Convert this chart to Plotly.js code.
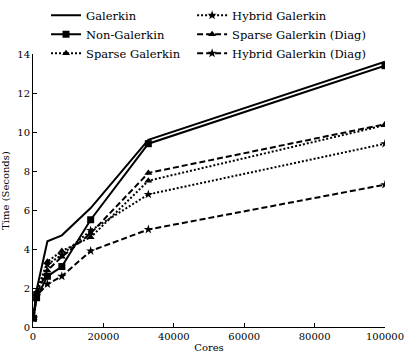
<!DOCTYPE html>
<html>
<head>
<meta charset="utf-8">
<script src="https://cdn.plot.ly/plotly-3.0.1.min.js"></script>
<style>
  html, body { margin: 0; padding: 0; background: #fff; }
  #chart { width: 407px; height: 359px; }
</style>
</head>
<body>
<div id="chart"></div>
<script>
// Cores (x values)
const cores = [128, 1024, 4096, 8192, 16384, 32768, 100000];

// Time (s) for each method
const galerkin        = [0.5, 1.9, 4.4, 4.7, 6.1, 9.6, 13.6];
const nonGalerkin     = [0.45, 1.5, 2.6, 3.1, 5.5, 9.4, 13.4];
const sparseGalerkin  = [0.45, 1.8, 3.35, 3.9, 4.6, 7.5, 10.35];
const hybridGalerkin  = [0.45, 1.75, 3.2, 3.7, 4.95, 6.8, 9.4];
const sparseDiag      = [0.45, 1.7, 2.9, 3.6, 4.8, 7.9, 10.4];
const hybridDiag      = [0.45, 1.6, 2.2, 2.6, 3.9, 5.0, 7.3];

const serif = 'DejaVu Serif';
const DOT = '2px,2px';
const DASH = '6px,3px';

function trace(name, y, dash, symbol, legend) {
  return {
    x: cores, y: y, name: name, type: 'scatter',
    mode: symbol ? 'lines+markers' : 'lines',
    line: { color: '#000', width: 2, dash: dash },
    marker: { symbol: symbol || 'circle', size: 7, color: '#000' },
    legend: legend
  };
}

const data = [
  trace('Galerkin', galerkin, 'solid', null, 'legend'),
  trace('Non-Galerkin', nonGalerkin, 'solid', 'square', 'legend'),
  trace('Sparse Galerkin', sparseGalerkin, DOT, 'triangle-up', 'legend'),
  trace('Hybrid Galerkin', hybridGalerkin, DOT, 'star', 'legend2'),
  trace('Sparse Galerkin (Diag)', sparseDiag, DASH, 'triangle-up', 'legend2'),
  trace('Hybrid Galerkin (Diag)', hybridDiag, DASH, 'star', 'legend2')
];

const legendBase = {
  orientation: 'v', y: 1.195, yanchor: 'top', xanchor: 'left',
  font: { family: serif, size: 11.5, color: '#000' },
  bgcolor: 'rgba(0,0,0,0)', traceorder: 'normal'
};

const layout = {
  width: 407, height: 359,
  margin: { l: 33, r: 22, t: 54, b: 32, autoexpand: false },
  paper_bgcolor: '#fff', plot_bgcolor: '#fff',
  font: { family: serif, size: 10, color: '#000' },
  showlegend: true,
  legend: Object.assign({ x: 0.037 }, legendBase),
  legend2: Object.assign({ x: 0.452 }, legendBase),
  xaxis: {
    range: [0, 100000], tickvals: [0, 20000, 40000, 60000, 80000, 100000],
    ticktext: ['0', '20000', '40000', '60000', '80000', '100000'],
    showgrid: false, zeroline: false, showline: true, linecolor: '#000', linewidth: 1,
    ticks: 'inside', ticklen: 4, tickcolor: '#000',
    title: { text: 'Cores', font: { family: serif, size: 10 }, standoff: 2 },
    tickfont: { family: serif, size: 10 }
  },
  yaxis: {
    range: [0, 14], dtick: 2,
    showgrid: false, zeroline: false, showline: true, linecolor: '#000', linewidth: 1,
    ticks: 'inside', ticklen: 4, tickcolor: '#000',
    title: { text: 'Time (Seconds)', font: { family: serif, size: 10 }, standoff: 6 },
    tickfont: { family: serif, size: 10 }
  }
};

Plotly.newPlot('chart', data, layout, { displayModeBar: false, staticPlot: true });
</script>
</body>
</html>
